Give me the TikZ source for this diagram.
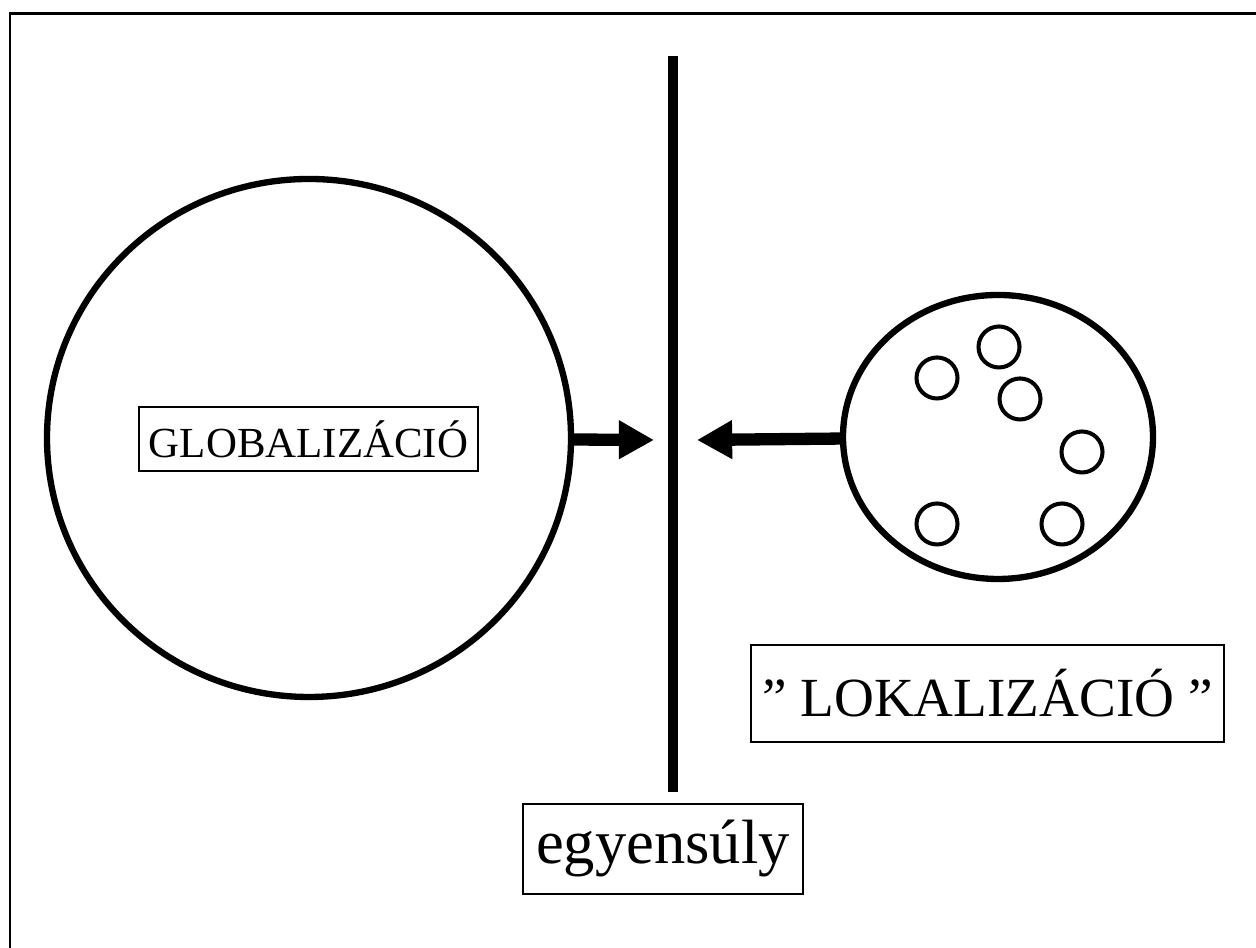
\documentclass[tikz,border=0pt]{standalone}
\usepackage{fontspec}
\setmainfont{Liberation Serif}
\usetikzlibrary{arrows.meta,shapes.geometric}

\tikzset{
  ring/.style={ellipse, draw=black, line width=1.8pt, inner sep=0pt},
  dot/.style={circle, draw=black, line width=1.15pt, inner sep=0pt, minimum size=0.41cm},
  labelbox/.style={draw=black, line width=0.45pt, inner sep=0pt, align=center},
  push/.style={line width=3.5pt, -{Triangle[length=10pt,width=10.4pt]}},
}

\begin{document}
\begin{tikzpicture}
	\useasboundingbox (0,0) rectangle (12.56,9.48);
	% frame
	\draw[line width=0.85pt] (0.10,-0.2) rectangle (12.8,9.34);
	% the big world and the small places
	\node[ring, minimum width=5.24cm, minimum height=5.18cm] (globe) at (3.09,5.10) {};
	\node[ring, minimum width=3.10cm, minimum height=2.84cm] (local) at (9.98,5.11) {};
	\node[dot] (p1) at (9.37,5.70) {};
	\node[dot] (p2) at (9.99,6.01) {};
	\node[dot] (p3) at (10.20,5.49) {};
	\node[dot] (p4) at (10.82,4.96) {};
	\node[dot] (p5) at (9.37,4.24) {};
	\node[dot] (p6) at (10.62,4.24) {};
	% balance line
	\coordinate (top) at (6.73,8.92);
	\coordinate (bot) at (6.73,1.56);
	\draw[line width=2.85pt] (top) -- (bot);
	\coordinate (gtip) at (6.54,5.08);
	\coordinate (ltip) at (6.97,5.08);
	\draw[push] (globe) -- (gtip);
	\draw[push] (local) -- (ltip);
	% labels
	\node[labelbox, minimum width=3.39cm, minimum height=0.64cm, font=\fontsize{12.2}{14}\selectfont] (glob) at (3.085,5.09) {GLOBALIZÁCIÓ};
	\node[labelbox, minimum width=4.73cm, minimum height=0.97cm, font=\fontsize{15.7}{18}\selectfont] (lok) at (9.875,2.545) {” LOKALIZÁCIÓ ”};
	\node[labelbox, minimum width=2.80cm, minimum height=0.90cm, font=\fontsize{17.8}{20}\selectfont] (egy) at (6.63,0.99) {egyensúly};
\end{tikzpicture}
\end{document}
